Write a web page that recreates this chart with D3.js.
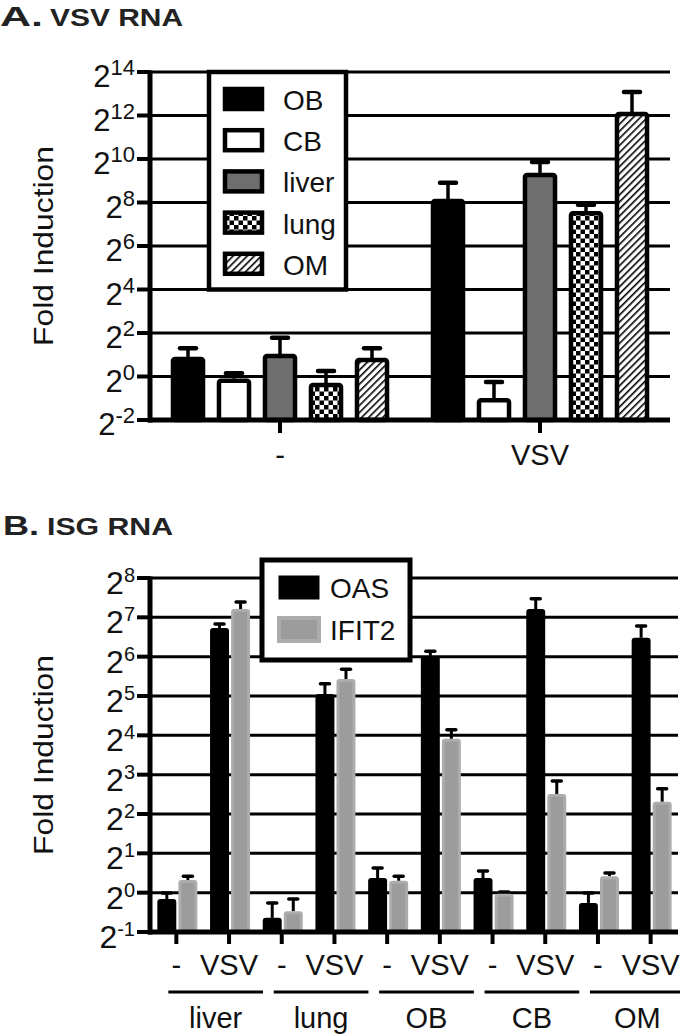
<!DOCTYPE html>
<html><head><meta charset="utf-8">
<script src="https://cdn.jsdelivr.net/npm/d3@7"></script>
<style>body{margin:0;background:#fff}svg{display:block}text{font-family:"Liberation Sans",Arial,Helvetica,sans-serif}</style>
</head><body>
<svg id="c" width="680" height="1036"></svg>
<script>
// ---------- Panel A data (log2 fold induction) ----------
const groupsA = ["-", "VSV"];
const tissuesA = ["OB", "CB", "liver", "lung", "OM"];
const meanA_neg = [0.9, -0.1, 1.03, -0.3, 0.85];
const errA_neg  = [0.4, 0.25, 0.75, 0.55, 0.45];
const meanA_vsv = [8.16, -1.0, 9.36, 7.6, 12.16];
const errA_vsv  = [0.75, 0.75, 0.5, 0.3, 0.92];
const ticksA = [-2, 0, 2, 4, 6, 8, 10, 12, 14];

// ---------- Panel B data (log2 fold induction) ----------
const tissuesB = ["liver", "lung", "OB", "CB", "OM"];
const treatmentsB = ["-", "VSV"];
const seriesB = ["OAS", "IFIT2"];
const oasMean  = [-0.16, 6.73, -0.64, 5.05, 0.37, 6.02, 0.37, 7.21, -0.26, 6.48];
const oasErr   = [0.15, 0.1, 0.38, 0.26, 0.26, 0.12, 0.18, 0.26, 0.25, 0.3];
const ifitMean = [0.32, 7.21, -0.47, 5.43, 0.3, 3.91, -0.03, 2.51, 0.42, 2.31];
const ifitErr  = [0.1, 0.18, 0.31, 0.25, 0.12, 0.23, 0.05, 0.33, 0.08, 0.33];
const ticksB = [-1, 0, 1, 2, 3, 4, 5, 6, 7, 8];

const svg = d3.select("#c");
const defs = svg.append("defs");
const chk = defs.append("pattern").attr("id","chk").attr("patternUnits","userSpaceOnUse")
  .attr("width",9).attr("height",9);
chk.append("rect").attr("width",9).attr("height",9).attr("fill","#fff");
chk.append("rect").attr("width",4.5).attr("height",4.5).attr("fill","#000");
chk.append("rect").attr("x",4.5).attr("y",4.5).attr("width",4.5).attr("height",4.5).attr("fill","#000");
const hat = defs.append("pattern").attr("id","hat").attr("patternUnits","userSpaceOnUse")
  .attr("width",5).attr("height",5).attr("patternTransform","rotate(45)");
hat.append("rect").attr("width",5).attr("height",5).attr("fill","#fff");
hat.append("line").attr("x1",0).attr("y1",0).attr("x2",0).attr("y2",5).attr("stroke","#000").attr("stroke-width",3.2);

const fillsA = {OB:"#000", CB:"#fff", liver:"#6e6e6e", lung:"url(#chk)", OM:"url(#hat)"};

function title(x1, w1, t1, x2, w2, t2, y) {
  svg.append("text").attr("x",x1).attr("y",y).attr("font-size",28).attr("font-weight","bold")
    .attr("textLength",w1).attr("lengthAdjust","spacingAndGlyphs").attr("fill","#222").text(t1);
  svg.append("text").attr("x",x2).attr("y",y).attr("font-size",24).attr("font-weight","bold")
    .attr("textLength",w2).attr("lengthAdjust","spacingAndGlyphs").attr("fill","#222").text(t2);
}
function ytitle(cy) {
  svg.append("text").attr("transform",`translate(53,${cy}) rotate(-90)`).attr("text-anchor","middle")
    .attr("font-size",28).attr("fill","#111").attr("textLength",200).attr("lengthAdjust","spacingAndGlyphs")
    .text("Fold Induction");
}
function yticklabels(scale, ticks, big, small) {
  ticks.forEach(t => {
    const tx = svg.append("text").attr("x",135).attr("y",scale(t)+(big>31.5?16:15)).attr("text-anchor","end").attr("fill","#111");
    tx.append("tspan").attr("font-size",big).text("2");
    tx.append("tspan").attr("font-size",small).attr("dy",-12).text(String(t));
  });
}

// ================= Panel A =================
title(0, 43, "A.", 50, 133, "VSV RNA", 26);
const yA = d3.scaleLinear().domain([-2, 14]).range([420, 72]);
const xA = d3.scaleBand().domain(groupsA).range([150, 670]);
const xAin = d3.scaleBand().domain(tissuesA).range([0, 230]).paddingInner(0.26).paddingOuter(0.13);

const gA = svg.append("g");
gA.selectAll("line.grid").data(ticksA.slice(1)).join("line")
  .attr("x1",150).attr("x2",670).attr("y1",d=>yA(d)).attr("y2",d=>yA(d))
  .attr("stroke","#000").attr("stroke-width",3);
gA.selectAll("line.tk").data(ticksA).join("line")
  .attr("x1",137).attr("x2",150).attr("y1",d=>yA(d)).attr("y2",d=>yA(d))
  .attr("stroke","#000").attr("stroke-width",4);
yticklabels(yA, ticksA, 31, 22);
ytitle(246);

const barsA = [];
groupsA.forEach((g,gi) => tissuesA.forEach((t,ti) => {
  barsA.push({g, t, v: gi===0?meanA_neg[ti]:meanA_vsv[ti], e: gi===0?errA_neg[ti]:errA_vsv[ti]});
}));
const bx = d => xA(d.g) + xA.bandwidth()/2 - 115 + xAin(d.t);
gA.selectAll("line.ev").data(barsA).join("line")
  .attr("x1",d=>bx(d)+xAin.bandwidth()/2).attr("x2",d=>bx(d)+xAin.bandwidth()/2)
  .attr("y1",d=>yA(d.v)).attr("y2",d=>yA(d.v+d.e)).attr("stroke","#000").attr("stroke-width",3.5);
gA.selectAll("line.ec").data(barsA).join("line")
  .attr("x1",d=>bx(d)+xAin.bandwidth()/2-8).attr("x2",d=>bx(d)+xAin.bandwidth()/2+8)
  .attr("y1",d=>yA(d.v+d.e)).attr("y2",d=>yA(d.v+d.e)).attr("stroke","#000").attr("stroke-width",4.5)
  .attr("stroke-linecap","round");
gA.selectAll("rect.bar").data(barsA).join("rect")
  .attr("x",d=>bx(d)+2).attr("width",xAin.bandwidth()-4)
  .attr("y",d=>yA(d.v)+2).attr("height",d=>yA(-2)-yA(d.v)-2)
  .attr("rx",2).attr("fill",d=>fillsA[d.t]).attr("stroke","#000").attr("stroke-width",4.5);
gA.append("line").attr("x1",150).attr("x2",150).attr("y1",yA(14)-1.5).attr("y2",yA(-2)+2.5).attr("stroke","#000").attr("stroke-width",5);
gA.append("line").attr("x1",148).attr("x2",670).attr("y1",yA(-2)).attr("y2",yA(-2)).attr("stroke","#000").attr("stroke-width",5);
gA.selectAll("line.xt").data(groupsA).join("line")
  .attr("x1",d=>xA(d)+xA.bandwidth()/2).attr("x2",d=>xA(d)+xA.bandwidth()/2)
  .attr("y1",420).attr("y2",433).attr("stroke","#000").attr("stroke-width",4);
gA.selectAll("text.xl").data(groupsA).join("text")
  .attr("x",d=>xA(d)+xA.bandwidth()/2).attr("y",465).attr("text-anchor","middle")
  .attr("font-size",29).attr("fill","#111").text(d=>d);
const legA = gA.append("g");
legA.append("rect").attr("x",209).attr("y",yA(14)).attr("width",137).attr("height",yA(4)-yA(14))
  .attr("fill","#fff").attr("stroke","#000").attr("stroke-width",4.5);
tissuesA.forEach((t,i) => {
  const cy = 99 + i*41.2;
  legA.append("rect").attr("x",225).attr("y",cy-10).attr("width",37).attr("height",20)
    .attr("fill",fillsA[t]).attr("stroke","#000").attr("stroke-width",4.5);
  legA.append("text").attr("x",283).attr("y",cy+11).attr("font-size",28).attr("fill","#111").text(t);
});

// ================= Panel B =================
title(3, 36, "B.", 47, 126, "ISG RNA", 535);
const yB = d3.scaleLinear().domain([-1, 8]).range([932, 578]);
const catsB = [];
tissuesB.forEach(t => treatmentsB.forEach(tr => catsB.push(t+"|"+tr)));
const xB = d3.scaleBand().domain(catsB).range([150, 677]);
const cB = c => xB(c) + xB.bandwidth()/2;
const xBin = d3.scaleBand().domain(seriesB).range([-19, 21]).paddingInner(0.1);

const gB = svg.append("g");
gB.selectAll("line.grid").data(ticksB.slice(1)).join("line")
  .attr("x1",150).attr("x2",678).attr("y1",d=>yB(d)).attr("y2",d=>yB(d))
  .attr("stroke","#000").attr("stroke-width",3);
gB.selectAll("line.tk").data(ticksB).join("line")
  .attr("x1",137).attr("x2",150).attr("y1",d=>yB(d)).attr("y2",d=>yB(d))
  .attr("stroke","#000").attr("stroke-width",4);
yticklabels(yB, ticksB, 32, 20);
ytitle(755);

const barsB = [];
catsB.forEach((c,i) => {
  barsB.push({c, s:"OAS", v:oasMean[i], e:oasErr[i]});
  barsB.push({c, s:"IFIT2", v:ifitMean[i], e:ifitErr[i]});
});
const bxB = d => cB(d.c) + xBin(d.s);
const bwB = xBin.bandwidth();
gB.selectAll("line.ev").data(barsB).join("line")
  .attr("x1",d=>bxB(d)+bwB/2).attr("x2",d=>bxB(d)+bwB/2)
  .attr("y1",d=>yB(d.v)).attr("y2",d=>yB(d.v+d.e)).attr("stroke","#000").attr("stroke-width",3);
gB.selectAll("line.ec").data(barsB).join("line")
  .attr("x1",d=>bxB(d)+bwB/2-4.5).attr("x2",d=>bxB(d)+bwB/2+4.5)
  .attr("y1",d=>yB(d.v+d.e)).attr("y2",d=>yB(d.v+d.e)).attr("stroke","#000").attr("stroke-width",3.5)
  .attr("stroke-linecap","round");
gB.selectAll("rect.bar").data(barsB).join("rect")
  .attr("x",d=>bxB(d)+1.5).attr("width",bwB-3)
  .attr("y",d=>yB(d.v)+1.5).attr("height",d=>yB(-1)-yB(d.v)-1.5)
  .attr("rx",1.5)
  .attr("fill",d=>d.s==="OAS"?"#000":"#9c9c9c")
  .attr("stroke",d=>d.s==="OAS"?"#000":"#acacac").attr("stroke-width",3);
gB.append("line").attr("x1",150).attr("x2",150).attr("y1",yB(8)-1.5).attr("y2",yB(-1)+2.5).attr("stroke","#000").attr("stroke-width",5);
gB.append("line").attr("x1",148).attr("x2",678).attr("y1",yB(-1)).attr("y2",yB(-1)).attr("stroke","#000").attr("stroke-width",5);
gB.selectAll("line.xt").data(catsB).join("line")
  .attr("x1",d=>cB(d)).attr("x2",d=>cB(d)).attr("y1",932).attr("y2",944)
  .attr("stroke","#000").attr("stroke-width",4);
gB.selectAll("text.xl").data(catsB).join("text")
  .attr("x",d=>cB(d)).attr("y",975).attr("text-anchor","middle")
  .attr("font-size",29).attr("fill","#111").text(d=>d.split("|")[1]);
tissuesB.forEach(t => {
  const x1 = cB(t+"|-") - 8, x2 = cB(t+"|VSV") + 34;
  gB.append("line").attr("x1",x1).attr("x2",x2).attr("y1",992).attr("y2",992).attr("stroke","#000").attr("stroke-width",3);
  gB.append("text").attr("x",(x1+x2)/2).attr("y",1028).attr("text-anchor","middle")
    .attr("font-size",29).attr("fill","#111").text(t);
});
const legB = gB.append("g");
legB.append("rect").attr("x",262).attr("y",560).attr("width",148).attr("height",100)
  .attr("fill","#fff").attr("stroke","#000").attr("stroke-width",5);
seriesB.forEach((s,i) => {
  const cy = 587.5 + i*42;
  legB.append("rect").attr("x",279).attr("y",cy-11.5).attr("width",40).attr("height",23)
    .attr("fill",s==="OAS"?"#000":"#9c9c9c").attr("stroke",s==="OAS"?"#000":"#acacac").attr("stroke-width",s==="OAS"?1:4);
  legB.append("text").attr("x",330).attr("y",cy+10).attr("font-size",28).attr("fill","#111").text(s);
});
</script>
</body></html>
